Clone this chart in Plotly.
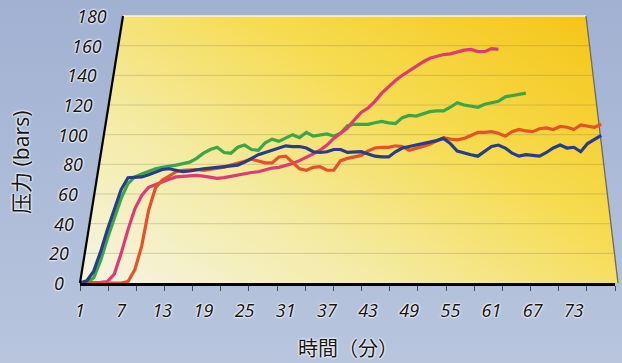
import base64
import plotly.graph_objects as go

# ---- data -------------------------------------------------------------
x_tick_labels = [1, 7, 13, 19, 25, 31, 37, 43, 49, 55, 61, 67, 73]
y_tick_values = [0, 20, 40, 60, 80, 100, 120, 140, 160, 180]

# pressure (bars) sampled every minute, one list per run
run_blue = [0, 1.5, 8, 21, 36, 50, 63, 71, 71, 71.5, 73, 75, 76.5, 77, 76, 75, 75.5, 76.5, 77, 77.5,
            78, 78, 78.5, 79.5, 81.5, 84, 86.5, 88, 89.5, 91, 92.5, 92, 92, 91, 88.5, 88, 88.5, 90, 90, 88,
            88, 88.5, 87, 85.5, 85, 85, 88.5, 91, 92, 93, 93.5, 94.5, 96, 97.5, 94, 89, 87.5, 86.5, 85.5, 89,
            92, 93, 91, 87.5, 85.5, 86.5, 86, 85.5, 88, 91, 93, 91, 91.5, 88.5, 94, 97, 99.5]
run_green = [0, 0.5, 3.5, 15, 30, 44, 57, 67, 71.5, 73.5, 75.5, 77, 78, 78.5, 79.5, 80.5, 81.5, 84, 87.5, 90,
             91.5, 88, 87.5, 91.5, 93, 90, 89.5, 94.5, 97, 95.5, 97.5, 100, 98, 101.5, 99, 100, 100.5, 99, 101, 106,
             107, 107, 107, 108, 109, 108, 107.5, 111.5, 113, 112.5, 114, 115.5, 116, 116, 118.5, 121.5, 120, 119, 118.5, 120.5,
             121.5, 122.5, 125.5, 126.5, 127, 128]
run_pink = [0, 0, 0.5, 0.5, 1, 6, 20, 36, 50, 59, 64.5, 66.5, 68, 70, 71.5, 72, 72.5, 72.5, 72, 71,
            70.5, 71, 72, 72.5, 73.5, 74.5, 75, 76.5, 77.5, 78, 79, 80.5, 82.5, 84.5, 87, 89.5, 93, 97.5, 101, 104.5,
            110, 115, 118, 122.5, 128, 132.5, 136.5, 140, 143, 146.5, 149, 151.5, 153, 154, 154.5, 156, 157, 157.5, 156, 156,
            158, 157.5]
run_orange = [0, 0, 0, 0, 0, 0, 0, 1, 9, 25, 49, 64, 69.5, 72, 75, 76, 76.5, 76.5, 76, 76.5,
              77, 78, 79.5, 80.5, 82, 83.5, 82, 81, 81, 85, 85.5, 81, 77, 76, 78, 78.5, 76, 76, 82.5, 84,
              85, 86, 89, 91, 91.5, 91.5, 92.5, 92, 89.5, 90.5, 92, 93.5, 95.5, 98, 97, 96.5, 97.5, 99.5, 101.5, 101.5,
              102, 101, 99, 102, 103.5, 102.5, 102, 104, 104.5, 103.5, 105.5, 105, 103.5, 106.5, 106, 105, 107]

# ---- geometry of the slanted panel (page pixels) ----------------------
W, H = 622, 363
PL, PR, PT, PB = 80, 615, 16, 283      # plot box
X_RANGE = [1, 79]
Y_RANGE = [0, 180]
TL_X, TR_X, BR_X = 123, 586, 618       # panel corners (top-left, top-right, bottom-right)


def paper_x(px):
    return (px - PL) / (PR - PL)


def paper_y(py):
    return (PB - py) / (PB - PT)


def value_py(v):
    return PB - (v - Y_RANGE[0]) / (Y_RANGE[1] - Y_RANGE[0]) * (PB - PT)


def left_edge(py):
    return PL + (PB - py) * (TL_X - PL) / (PB - PT)


def right_edge(py):
    return BR_X - (PB - py) * (BR_X - TR_X) / (PB - PT)


svg = f'''<svg xmlns="http://www.w3.org/2000/svg" width="{W}" height="{H}" viewBox="0 0 {W} {H}">
<defs>
<linearGradient id="bg" x1="0" y1="0" x2="0" y2="1">
<stop offset="0" stop-color="#a1b1d2"/><stop offset="1" stop-color="#b8c5dd"/></linearGradient>
<linearGradient id="panel" x1="0" y1="0.9" x2="1" y2="0.1">
<stop offset="0" stop-color="#f5f3dc"/><stop offset="0.3" stop-color="#f4eba4"/>
<stop offset="0.65" stop-color="#f6db4e"/><stop offset="1" stop-color="#f5c61a"/></linearGradient>
</defs>
<rect width="{W}" height="{H}" fill="url(#bg)"/>
<polygon points="{TL_X},{PT} {TR_X},{PT} {BR_X},{PB} {PL},{PB}" fill="url(#panel)"/>
<line x1="{TL_X}" y1="{PT}" x2="{TR_X}" y2="{PT}" stroke="#fbf7de" stroke-width="1.3"/>
<line x1="{TR_X}" y1="{PT}" x2="{BR_X}" y2="{PB}" stroke="#6e6a58" stroke-width="1.3"/>
</svg>'''
svg_uri = "data:image/svg+xml;base64," + base64.b64encode(svg.encode("utf-8")).decode("ascii")

GLOW = "0px 0px 2px #ffffff, 0px 0px 2px #ffffff, 0px 0px 3px #ffffff"
TICK_FONT = dict(family="Noto Sans, DejaVu Sans", size=18, color="#161616", style="italic", shadow=GLOW)

fig = go.Figure()

series = [
    ("green", run_green, "#3aa648"),
    ("pink", run_pink, "#dc3c74"),
    ("orange", run_orange, "#e4522a"),
    ("blue", run_blue, "#263d8a"),
]
for name, vals, color in series:
    fig.add_trace(go.Scatter(
        x=list(range(1, len(vals) + 1)), y=vals, name=name, mode="lines",
        line=dict(color=color, width=3.2), showlegend=False, hoverinfo="skip",
    ))

shapes = []
# horizontal grid lines clipped to the slanted panel
for v in y_tick_values[1:-1]:
    py = value_py(v)
    shapes.append(dict(type="line", xref="paper", yref="y",
                       x0=paper_x(left_edge(py)), x1=paper_x(right_edge(py)), y0=v, y1=v,
                       line=dict(color="rgba(120,110,80,0.28)", width=1), layer="below"))
# slanted value axis
shapes.append(dict(type="line", xref="paper", yref="paper",
                   x0=paper_x(PL), y0=paper_y(PB), x1=paper_x(TL_X), y1=paper_y(PT),
                   line=dict(color="#000000", width=2.2), layer="above"))

annotations = []
for v in y_tick_values:
    py = value_py(v)
    annotations.append(dict(text=str(v), xref="paper", yref="y", x=paper_x(left_edge(py) - 14), y=v,
                            xanchor="right", yanchor="middle", showarrow=False, font=TICK_FONT))
annotations.append(dict(text="压力 (bars)", xref="paper", yref="paper", x=paper_x(21), y=paper_y(162),
                        textangle=-90, showarrow=False, xanchor="center", yanchor="middle",
                        font=dict(family="Noto Sans, Noto Sans CJK SC", size=21, color="#161616", shadow=GLOW)))
annotations.append(dict(text="時間（分）", xref="paper", yref="paper", x=paper_x(348), y=paper_y(347),
                        showarrow=False, xanchor="center", yanchor="middle",
                        font=dict(family="Noto Sans CJK JP", size=20, color="#161616", shadow=GLOW)))

fig.update_layout(
    width=W, height=H, autosize=False,
    margin=dict(l=PL, r=W - PR, t=PT, b=H - PB, pad=0),
    paper_bgcolor="#adbbd7", plot_bgcolor="rgba(0,0,0,0)",
    images=[dict(source=svg_uri, xref="paper", yref="paper",
                 x=paper_x(0), y=paper_y(0), sizex=W / (PR - PL), sizey=H / (PB - PT),
                 xanchor="left", yanchor="top", sizing="stretch", layer="below")],
    shapes=shapes, annotations=annotations,
    xaxis=dict(range=X_RANGE, tickmode="array", tickvals=x_tick_labels,
               ticktext=[str(t) for t in x_tick_labels], ticks="", ticklabelstandoff=10,
               tickfont=TICK_FONT, showgrid=False, zeroline=False,
               showline=True, linecolor="#000000", linewidth=2.5,
               minor=dict(ticks="outside", tick0=1, dtick=78 / 19, ticklen=5,
                          tickcolor="#4a4a4a", tickwidth=1, showgrid=False),
               fixedrange=True),
    yaxis=dict(range=Y_RANGE, showticklabels=False, ticks="", showgrid=False,
               zeroline=False, showline=False, fixedrange=True),
)

fig.write_html("out.html")
